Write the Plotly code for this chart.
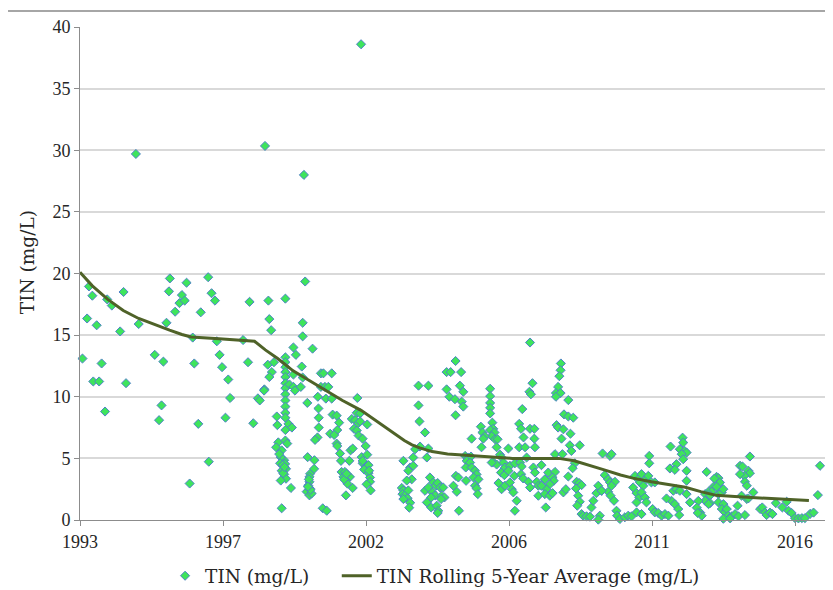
import plotly.graph_objects as go

# ---- data (decimal year, mg/L) ----
tin_year = [
    1993.29, 1993.40, 1993.23, 1993.54, 1993.08, 1993.70, 1993.43, 1993.62, 1993.81, 1993.88,
    1994.03, 1994.41, 1994.30, 1994.49, 1994.90, 1995.42, 1995.70, 1995.64, 1995.56, 1995.80,
    1995.91, 1995.88, 1996.08, 1996.22, 1996.30, 1996.39, 1996.45, 1996.65, 1996.70, 1996.55,
    1996.83, 1996.91, 1997.15, 1997.26, 1997.37, 1997.17, 1997.43, 1997.52, 1997.60, 1997.80,
    1997.86, 1997.71, 1998.28, 1998.44, 1998.49, 1998.61, 1998.76, 1998.82, 1998.97,
    1994.81, 1998.99, 2000.25, 2002.10,
    # 1999-2002
    2000.29, 1999.10, 1999.65, 1999.13, 1999.19, 2000.21, 2000.21, 2000.53, 1999.91, 1999.99,
    1999.65, 1999.08, 1999.28, 1999.21, 1999.13, 1999.65, 1999.65, 1999.65, 1999.65, 1999.65,
    1999.65, 1999.78, 1999.91, 1999.96, 2000.18, 2000.21, 2000.15, 1999.91, 1998.96,
    1999.65, 1999.65, 1999.65, 1999.65, 1999.65, 1999.37, 1999.39, 1999.75, 1999.86, 1999.65,
    2000.36, 2000.80, 2000.88, 2001.15, 2000.80, 2000.93, 2001.04, 2000.70, 2000.96, 2001.15,
    2000.72, 2000.73, 2000.73, 2000.69, 2000.61,
    2001.18, 2001.31, 2001.39, 2001.33, 2001.10, 2001.23, 2001.31, 2001.33, 2001.42, 2001.45,
    2001.72, 2001.47, 2001.58, 2001.66, 2001.74, 2001.53, 2001.61, 2001.66, 2001.83, 2001.61,
    2001.98, 2001.96, 2002.07, 2001.80, 2001.91, 2002.01, 2002.07, 2002.30,
    2001.87, 2001.96, 2002.02, 2002.15, 2002.25, 2001.76, 2001.83, 2002.12, 2002.30, 2002.15,
    2002.26, 2002.34, 2002.20, 2002.34, 2002.39, 2002.39, 2002.41, 2002.15,
    1999.42, 1999.35, 1999.53, 1999.61, 1999.50, 1999.64, 1999.67, 1999.53, 1999.61, 1999.67,
    1999.50, 1999.65, 1999.71, 1999.83, 1999.53, 1999.48, 1999.56,
    2000.37, 2000.45, 2000.43, 2000.43, 2000.39, 2000.45, 2000.34, 2000.43, 2000.50, 2000.59,
    2000.58, 2000.86, 2000.99,
    1999.45, 1999.58, 1999.62, 2000.41, 2000.46, 2000.38, 2001.55, 2001.63, 2002.28, 2002.36,
    # 2003-2008
    2007.57, 2007.65, 2007.55, 2007.60, 2007.32, 2005.16, 2004.87, 2005.00, 2005.34, 2003.96,
    2004.28, 2005.30, 2004.87, 2005.41, 2004.96, 2005.14, 2005.36, 2005.41, 2005.16, 2003.96,
    2003.99, 2004.17,
    2006.28, 2006.28, 2006.28, 2006.28, 2006.28, 2006.35, 2006.38, 2006.28, 2006.42, 2006.33,
    2006.44, 2006.52, 2005.98, 2006.03, 2006.11, 2006.06, 2005.68, 2006.00,
    2006.49, 2006.87, 2007.22, 2007.28, 2007.22, 2007.41, 2007.57, 2007.71, 2007.71, 2007.73,
    2007.36,
    2005.47, 2005.57, 2005.66, 2005.52, 2005.63, 2005.49, 2005.68, 2005.79, 2005.84, 2005.74,
    2005.90, 2005.79, 2005.84, 2005.88, 2005.50, 2005.17, 2005.25, 2005.09, 2005.20, 2005.27,
    2003.47, 2003.79, 2003.69, 2003.79, 2003.85, 2004.01, 2004.28, 2004.23, 2003.63, 2003.74,
    2003.58, 2003.42, 2003.47, 2003.44, 2003.52, 2003.63, 2003.61, 2003.69, 2003.66, 2003.47,
    2004.17, 2004.28, 2004.33, 2004.44, 2004.52, 2004.58, 2004.66, 2004.76, 2004.41, 2004.50,
    2004.37, 2004.23, 2004.37, 2004.55, 2004.60, 2004.58, 2004.71, 2004.80, 2004.69,
    2006.38, 2006.49, 2006.60, 2006.65, 2006.71, 2006.76, 2006.63, 2006.74, 2006.55, 2006.65,
    2006.76, 2006.92, 2006.98, 2007.03, 2006.92, 2006.87, 2007.08, 2007.06, 2007.14, 2007.08,
    2007.25, 2007.30, 2007.28, 2007.35, 2007.46, 2007.52, 2007.57, 2007.68, 2007.73, 2007.79,
    2007.84, 2007.84, 2006.33,
    # 2008-2012
    2008.57, 2008.56, 2008.52, 2008.48, 2008.41, 2008.56, 2008.41, 2008.81, 2008.67, 2008.81,
    2008.97, 2008.43, 2008.48, 2008.65, 2008.88, 2008.59, 2008.86, 2009.18, 2008.91, 2008.38,
    2008.62,
    2007.94, 2009.02, 2008.95, 2008.16, 2008.38, 2008.05, 2008.30, 2008.34, 2008.21, 2008.10,
    2007.94, 2008.05, 2008.21, 2008.08, 2008.30, 2008.65, 2008.73, 2008.81, 2009.08, 2009.16,
    2009.24, 2009.06, 2009.13, 2009.18, 2009.10, 2009.24, 2009.29, 2009.40, 2009.51, 2009.56,
    2009.62, 2009.72, 2009.78, 2009.89, 2009.92, 2010.16, 2010.21, 2009.99, 2010.10, 2010.16,
    2010.32, 2010.21, 2010.10, 2010.18, 2010.29, 2009.89, 2009.83, 2009.78,
    2010.37, 2010.39, 2010.48, 2010.64, 2010.75, 2010.86, 2011.02, 2011.18,
    2010.97, 2011.07, 2011.18, 2011.13, 2011.24, 2011.32, 2011.43, 2011.43, 2011.40, 2010.91,
    2011.02, 2011.11, 2011.18, 2011.29, 2011.34, 2011.02, 2011.50, 2011.61, 2011.54, 2011.61,
    2011.72, 2011.83, 2011.94, 2012.05,
    2012.12, 2012.51, 2012.53, 2012.42, 2012.58, 2012.64, 2012.48, 2012.53, 2012.31, 2012.10,
    2012.26, 2012.64, 2012.21, 2012.31, 2012.42, 2012.15, 2012.26, 2012.37, 2012.40, 2012.64,
    2011.99,
    # 2012.6-2017
    2012.64, 2012.75, 2013.29, 2013.61, 2013.67, 2013.54, 2013.72, 2013.51, 2013.61, 2013.35,
    2013.45, 2013.24, 2013.40, 2013.67, 2013.78, 2013.29, 2013.40, 2013.24, 2013.35, 2013.02,
    2012.97, 2013.08, 2013.13, 2013.00, 2013.83, 2013.67, 2013.83, 2013.78, 2013.88, 2013.94,
    2013.99, 2013.83, 2014.10, 2014.21, 2014.32, 2014.05, 2014.53,
    2014.37, 2014.45, 2014.69, 2014.64, 2014.69, 2014.51, 2014.53, 2014.59, 2014.37, 2014.80,
    2014.42, 2014.59, 2014.64, 2014.29,
    2015.02, 2015.09, 2015.18, 2015.23, 2015.34, 2015.42, 2015.53, 2015.74, 2015.88, 2015.94,
    2016.04, 2016.15, 2016.26, 2016.37, 2016.47, 2016.64, 2016.75, 2016.89, 2016.96,
]

tin_value = [
    18.95, 18.20, 16.35, 15.80, 13.10, 12.70, 11.24, 11.24, 8.80, 17.90,
    17.40, 18.50, 15.30, 11.10, 15.90, 13.40, 12.85, 9.30, 8.10, 16.00,
    19.60, 18.55, 16.90, 17.60, 18.25, 17.80, 19.25, 14.80, 12.70, 2.96,
    7.80, 16.85, 19.70, 18.40, 17.80, 4.73, 14.50, 13.40, 12.40, 11.40,
    9.90, 8.30, 14.60, 12.80, 17.70, 7.85, 9.87, 9.70, 10.60,
    29.70, 30.35, 28.00, 38.60,
    19.35, 17.80, 17.96, 16.30, 15.40, 16.00, 14.90, 13.90, 14.00, 13.40,
    13.20, 12.60, 12.80, 12.00, 11.60, 12.80, 12.40, 12.00, 11.60, 11.10,
    10.70, 11.00, 10.80, 10.50, 12.45, 11.56, 10.80, 11.80, 10.50,
    10.20, 9.70, 9.20, 8.70, 8.30, 8.40, 7.70, 7.80, 7.50, 7.30,
    9.50, 11.90, 11.90, 11.90, 10.80, 10.80, 10.80, 10.00, 9.85, 9.85,
    9.05, 8.30, 7.50, 6.70, 6.50,
    8.55, 8.47, 7.90, 7.30, 7.00, 6.90, 6.20, 6.00, 5.40, 4.80,
    4.80, 3.90, 3.90, 3.60, 3.50, 3.50, 3.20, 2.95, 2.60, 2.00,
    9.90, 8.70, 8.65, 8.20, 8.10, 7.85, 8.00, 7.75,
    7.40, 7.26, 6.85, 6.60, 6.00, 5.65, 5.80, 5.10, 5.30, 4.60,
    4.30, 4.45, 4.10, 3.80, 3.45, 3.10, 2.40, 4.80,
    6.30, 5.90, 5.65, 4.85, 5.10, 4.55, 4.15, 4.00, 3.70, 3.35,
    3.20, 6.45, 6.20, 2.60, 0.95, 4.60, 4.45,
    5.10, 3.75, 3.50, 3.10, 2.80, 2.55, 2.30, 2.00, 2.15, 4.85,
    4.15, 0.95, 0.75,
    5.35, 3.80, 4.30, 3.30, 2.45, 2.70, 3.30, 3.75, 2.90, 4.00,
    14.40, 11.10, 10.40, 10.20, 9.00, 12.90, 12.00, 12.00, 12.00, 10.90,
    10.90, 10.90, 10.60, 10.40, 10.00, 9.80, 9.60, 9.20, 8.50, 9.30,
    8.00, 7.10,
    10.65, 10.05, 9.50, 9.10, 8.65, 7.90, 7.40, 7.30, 7.10, 6.80,
    6.55, 6.55, 7.57, 7.10, 6.80, 6.60, 6.60, 5.90,
    5.90, 5.80, 7.80, 7.40, 5.90, 5.90, 7.40, 7.40, 6.60, 5.90,
    6.70,
    5.20, 5.07, 5.15, 4.80, 4.66, 4.26, 4.26, 4.00, 3.70, 3.45,
    3.30, 2.78, 2.56, 2.10, 3.18, 3.58, 3.45, 2.78, 2.29, 0.75,
    4.80, 5.07, 4.26, 4.40, 5.74, 5.96, 5.80, 5.07, 4.00, 3.30,
    3.20, 2.60, 2.40, 2.10, 2.00, 2.40, 1.75, 1.40, 1.00, 1.70,
    2.37, 2.64, 3.45, 3.05, 2.78, 3.00, 2.64, 2.64, 2.24, 2.00,
    1.83, 1.43, 1.02, 1.16, 0.75, 0.57, 1.97, 1.83, 1.70,
    4.70, 4.50, 5.30, 5.07, 4.66, 4.26, 3.85, 3.64, 3.00, 2.50,
    2.78, 3.05, 2.50, 2.24, 4.40, 4.00, 4.60, 3.58, 1.56, 0.75,
    4.66, 4.34, 3.72, 3.37, 5.07, 3.10, 2.64, 4.26, 3.85, 3.10,
    2.78, 1.97, 4.66,
    12.70, 12.15, 11.67, 10.80, 10.30, 10.30, 10.00, 9.73, 8.57, 8.40,
    8.30, 7.70, 7.50, 7.36, 7.00, 6.60, 6.06, 6.06, 5.60, 5.34,
    5.34,
    4.45, 4.60, 4.20, 3.85, 3.90, 3.30, 3.45, 3.18, 2.90, 2.50,
    2.78, 2.10, 1.97, 1.02, 2.18, 2.24, 2.50, 3.53, 3.10, 3.00,
    2.83, 2.56, 1.97, 1.48, 1.16, 0.48, 0.35, 0.30, 0.27, 1.02,
    1.56, 2.18, 2.78, 2.37, 5.40, 5.20, 5.34, 3.64, 3.30, 3.05,
    3.10, 2.78, 2.29, 1.97, 1.56, 2.37, 0.35, 0.03,
    0.75, 0.35, 0.08, 0.22, 0.35, 0.30, 0.62, 0.48,
    3.58, 3.30, 3.72, 3.05, 2.78, 3.30, 5.20, 4.60, 3.58, 2.64,
    2.18, 1.83, 2.24, 1.83, 1.43, 1.43, 3.05, 3.05, 0.89, 0.62,
    0.57, 0.35, 0.48, 0.35,
    5.96, 6.68, 6.28, 5.74, 5.60, 5.47, 5.34, 4.93, 4.53, 4.18,
    4.07, 3.99, 2.37, 2.50, 2.37, 1.56, 1.29, 0.89, 0.40, 2.10,
    1.75,
    3.18, 1.43, 3.90, 3.50, 3.40, 3.36, 3.05, 2.70, 2.70, 2.30,
    2.30, 2.10, 2.00, 2.10, 2.24, 1.50, 1.37, 1.56, 1.29, 1.55,
    1.00, 0.60, 0.35, 0.57, 2.50, 1.43, 1.29, 0.89, 0.62, 0.89,
    0.35, 0.10, 0.30, 0.48, 0.30, 0.13, 0.40,
    4.40, 4.34, 5.15, 4.00, 3.80, 3.58, 3.10, 2.78, 3.72, 2.24,
    1.97, 1.70, 1.75, 1.16,
    0.89, 1.02, 0.60, 0.40, 0.60, 0.48, 1.37, 1.02, 1.48, 0.75,
    0.57, 0.15, 0.13, 0.15, 0.15, 0.50, 0.60, 2.02, 4.40,
]

avg_year = [1993.0, 1993.4, 1993.9, 1994.4, 1994.9, 1995.4, 1995.9, 1996.3, 1996.6, 1997.5,
            1998.2, 1998.65, 1999.0, 1999.4, 1999.9, 2000.5, 2001.0, 2001.5, 2002.1, 2002.6,
            2003.0, 2003.2, 2003.5, 2003.75, 2004.0, 2004.4, 2004.9, 2005.5, 2006.0, 2006.6,
            2007.0, 2008.0, 2008.5, 2009.0, 2009.5, 2010.0, 2010.5, 2010.9, 2011.5, 2012.1,
            2012.6, 2013.1, 2013.6, 2014.2, 2014.8, 2015.8, 2016.6]
avg_value = [20.1, 19.0, 17.9, 17.0, 16.35, 15.85, 15.4, 15.05, 14.85, 14.7,
             14.6, 14.5, 13.8, 13.1, 12.1, 11.2, 10.45, 9.7, 8.9, 8.0,
             7.3, 6.95, 6.45, 6.1, 5.85, 5.55, 5.35, 5.25, 5.15, 5.05,
             5.0, 5.0, 5.0, 4.8, 4.45, 4.05, 3.65, 3.4, 3.1, 2.85,
             2.65, 2.3, 2.0, 1.9, 1.83, 1.7, 1.58]

tick_years = ["1993", "1997", "2002", "2006", "2011", "2016"]
tick_step = 4.63  # Excel date-axis major unit, in years

tickvals = [1993 + i * tick_step for i in range(len(tick_years))]

FONT = "DejaVu Serif"
TICKFONT = "Liberation Serif"

fig = go.Figure()
fig.add_trace(go.Scatter(
    x=tin_year, y=tin_value, mode="markers", name="TIN (mg/L)",
    marker=dict(symbol="diamond", size=7, color="#3ee45c",
                line=dict(color="#4f82c8", width=1)),
    cliponaxis=False, legend="legend",
))
fig.add_trace(go.Scatter(
    x=avg_year, y=avg_value, mode="lines", name="TIN Rolling 5-Year Average (mg/L)",
    line=dict(color="#4f6228", width=3), legend="legend2",
))

legend_font = dict(family=FONT, size=18.5, color="#262626")

# page body has an 8px margin: figure is shifted by 8px right/down
fig.update_layout(
    width=825, height=582,
    margin=dict(l=72, r=0, t=19, b=70, autoexpand=False),
    paper_bgcolor="white", plot_bgcolor="white",
    showlegend=True,
    legend=dict(orientation="h", x=0.113, xanchor="left", y=-0.114, yanchor="middle",
                font=legend_font, itemwidth=30),
    legend2=dict(orientation="h", x=0.341, xanchor="left", y=-0.114, yanchor="middle",
                 font=legend_font, itemwidth=30),
    xaxis=dict(range=[1993, 2017.38], tickvals=tickvals, ticktext=tick_years,
               showgrid=False, zeroline=False, showline=True, linecolor="#8c8c8c", linewidth=1,
               ticks="outside", ticklen=5, tickcolor="#8c8c8c",
               tickfont=dict(family=TICKFONT, size=18, color="#262626")),
    yaxis=dict(range=[0, 40], dtick=5, showgrid=True, gridcolor="#d9d9d9", gridwidth=1.5,
               zeroline=False, showline=True, linecolor="#8c8c8c", linewidth=1,
               ticks="outside", ticklen=5, tickcolor="#8c8c8c",
               tickfont=dict(family=TICKFONT, size=18, color="#262626")),
    annotations=[dict(text="TIN (mg/L)", textangle=-90, xref="paper", yref="paper",
                      x=-0.0704, y=0.523, xanchor="center", yanchor="middle", showarrow=False,
                      font=dict(family=FONT, size=18.5, color="#262626"))],
    shapes=[dict(type="line", xref="paper", yref="paper", x0=-0.0956, x1=1.0,
                 y0=1.0325, y1=1.0325, line=dict(color="#a6a6a6", width=2))],
)

fig.write_html("out.html")
